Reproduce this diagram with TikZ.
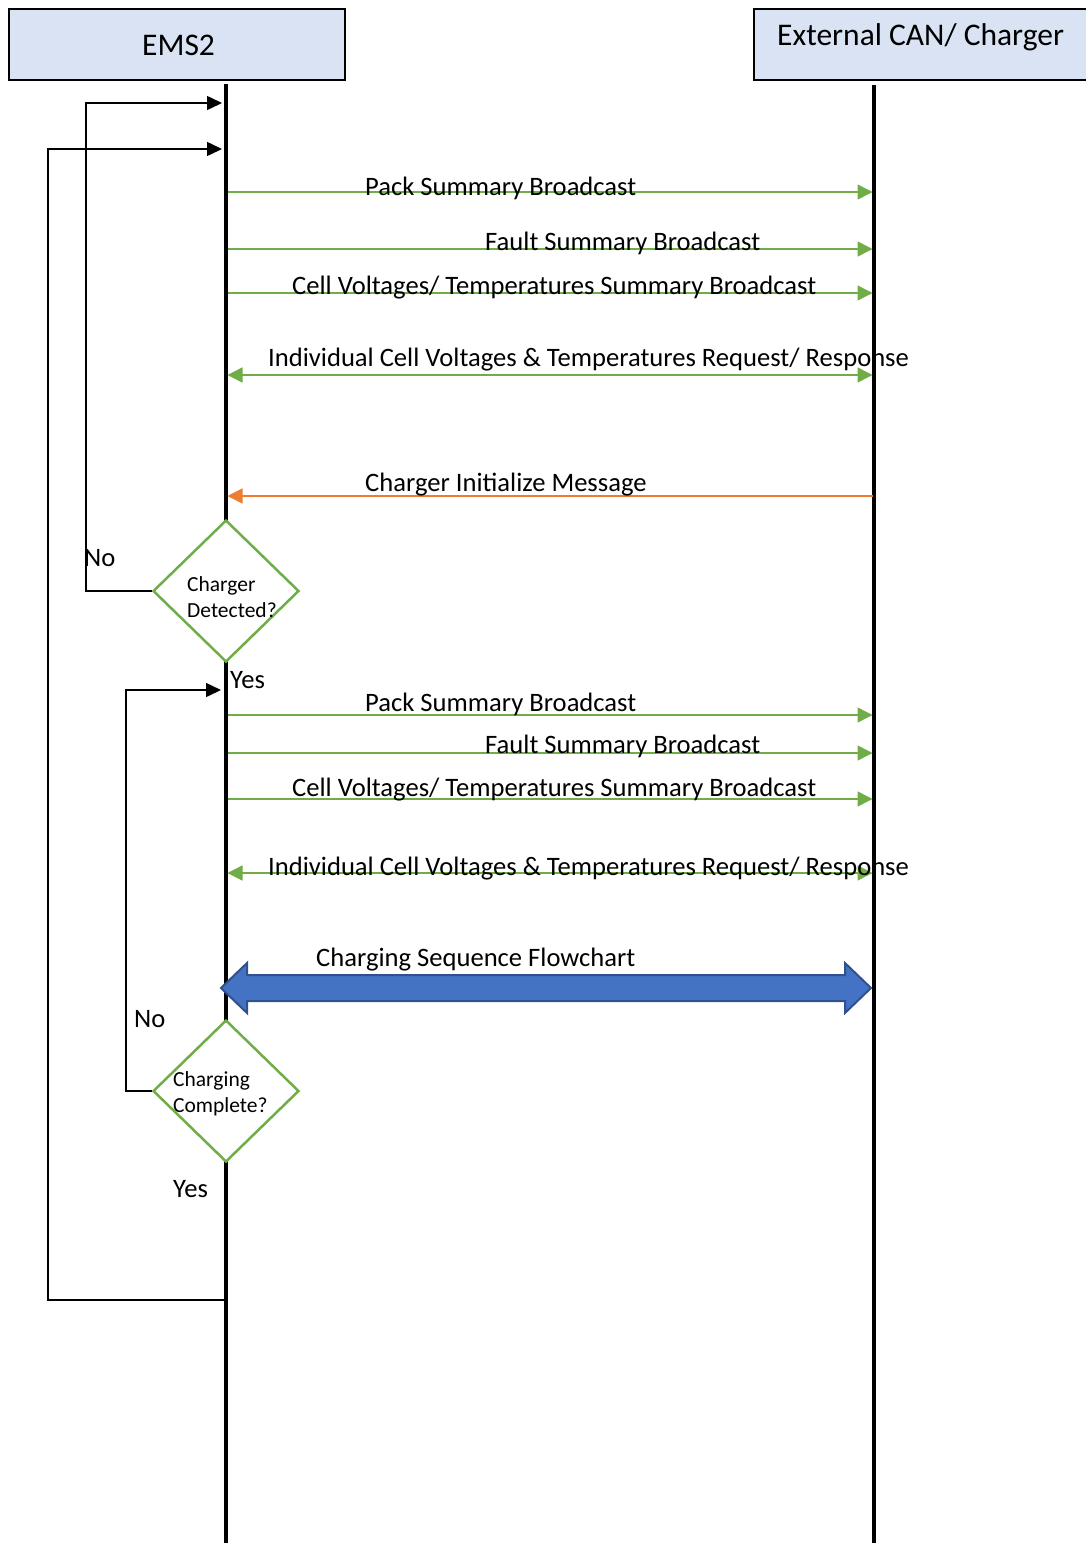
\documentclass[tikz,border=0pt]{standalone}
\usepackage{fontspec}
\setmainfont{Carlito}
\usetikzlibrary{arrows.meta,shapes.geometric,calc}
\definecolor{msggreen}{HTML}{70AD47}
\definecolor{msgorange}{HTML}{ED7D31}
\definecolor{flowblue}{HTML}{4472C4}
\definecolor{flowblueedge}{HTML}{2F528F}
\definecolor{headfill}{HTML}{DAE3F3}
\tikzset{
  headbox/.style={draw=black, line width=2.5pt, fill=headfill},
  lifeline/.style={draw=black, line width=3.5pt},
  msg/.style={draw=msggreen, line width=1.5pt, -{Triangle[length=15pt,width=15pt]}},
  msgboth/.style={draw=msggreen, line width=1.5pt, {Triangle[length=15pt,width=15pt]}-{Triangle[length=15pt,width=15pt]}},
  msgorg/.style={draw=msgorange, line width=1.5pt, -{Triangle[length=15pt,width=15pt]}},
  loopline/.style={draw=black, line width=1.5pt, -{Triangle[length=15pt,width=14pt]}},
  decision/.style={diamond, draw=msggreen, line width=2.5pt, fill=white, minimum width=146pt, minimum height=142pt, inner sep=0pt},
  lbl/.style={anchor=base west, inner sep=0pt, font=\fontsize{26.6}{32}\selectfont},
  headlbl/.style={anchor=base west, inner sep=0pt, font=\fontsize{31.5}{38}\selectfont},
  dtext/.style={anchor=base west, inner sep=0pt, align=left, font=\fontsize{21.5}{26}\selectfont},
  bigarrow/.style={fill=flowblue, draw=flowblueedge, line width=2pt, line join=miter}
}
\begin{document}
\begin{tikzpicture}[x=1pt,y=-1pt]
\useasboundingbox (0,0) rectangle (1086,1543);
% header boxes
\draw[headbox] (9,9) rectangle (345,80);
\draw[headbox] (754,9) rectangle (1095,80);
\node[headlbl] (ems) at (142,55) {EMS2};
\node[headlbl] (ext) at (777,45) {External CAN/ Charger};
% lifelines
\coordinate (Ltop) at (226,84);
\coordinate (Lbot) at (226,1543);
\coordinate (Rtop) at (874,85);
\coordinate (Rbot) at (874,1543);
\draw[lifeline] (Ltop) -- (Lbot);
\draw[lifeline] (Rtop) -- (Rbot);
% message endpoints
\foreach \n/\y in {1/192,2/249,3/293,4/375,5/496,6/715,7/753,8/799,9/873}{
  \coordinate (L\n) at (227.5,\y);
  \coordinate (R\n) at (872.5,\y);
}
\draw[msg] (L1) -- (R1);
\draw[msg] (L2) -- (R2);
\draw[msg] (L3) -- (R3);
\draw[msgboth] (L4) -- (R4);
\draw[msgorg] (R5) -- (L5);
\draw[msg] (L6) -- (R6);
\draw[msg] (L7) -- (R7);
\draw[msg] (L8) -- (R8);
\draw[msgboth] (L9) -- (R9);
% labels
\node[lbl] (t1) at (365,195) {Pack Summary Broadcast};
\node[lbl] (t2) at (485,250) {Fault Summary Broadcast};
\node[lbl] (t3) at (292,294) {Cell Voltages/ Temperatures Summary Broadcast};
\node[lbl] (t4) at (268,366) {Individual Cell Voltages \& Temperatures Request/ Response};
\node[lbl] (t5) at (365,491) {Charger Initialize Message};
\node[lbl] (t6) at (365,711) {Pack Summary Broadcast};
\node[lbl] (t7) at (485,753) {Fault Summary Broadcast};
\node[lbl] (t8) at (292,796) {Cell Voltages/ Temperatures Summary Broadcast};
\node[lbl] (t9) at (268,875) {Individual Cell Voltages \& Temperatures Request/ Response};
\node[lbl] (t10) at (316,966) {Charging Sequence Flowchart};
% big blue double arrow
\coordinate (bl) at (221,988);
\coordinate (br) at (871,988);
\draw[bigarrow] (bl) -- ++(26,-25) -- ++(0,12) -- ($(br)+(-26,-13)$) -- ++(0,-12) -- (br)
  -- ++(-26,25) -- ++(0,-12) -- ($(bl)+(26,13)$) -- ++(0,12) -- cycle;
% decisions
\node[decision] (d1) at (226,591) {};
\node[dtext] (d1t) at (187,617) {Charger\\Detected?};
\node[decision] (d2) at (226,1091) {};
\node[dtext] (d2t) at (173,1112) {Charging\\Complete?};
% yes/no labels
\node[lbl] (no1) at (84,566) {No};
\node[lbl] (yes1) at (230,688) {Yes};
\node[lbl] (no2) at (134,1027) {No};
\node[lbl] (yes2) at (173,1197) {Yes};
% loops
\coordinate (tg1) at (222,103);
\coordinate (c1) at (86,103);
\draw[loopline] (d1.west) -| (c1) -- (tg1);
\coordinate (tg0) at (222,149);
\coordinate (c0) at (48,149);
\coordinate (ls0) at (226,1300);
\draw[loopline] (ls0) -| (c0) -- (tg0);
\coordinate (tg2) at (221,690);
\coordinate (c2) at (126,690);
\draw[loopline] (d2.west) -| (c2) -- (tg2);
\end{tikzpicture}
\end{document}
